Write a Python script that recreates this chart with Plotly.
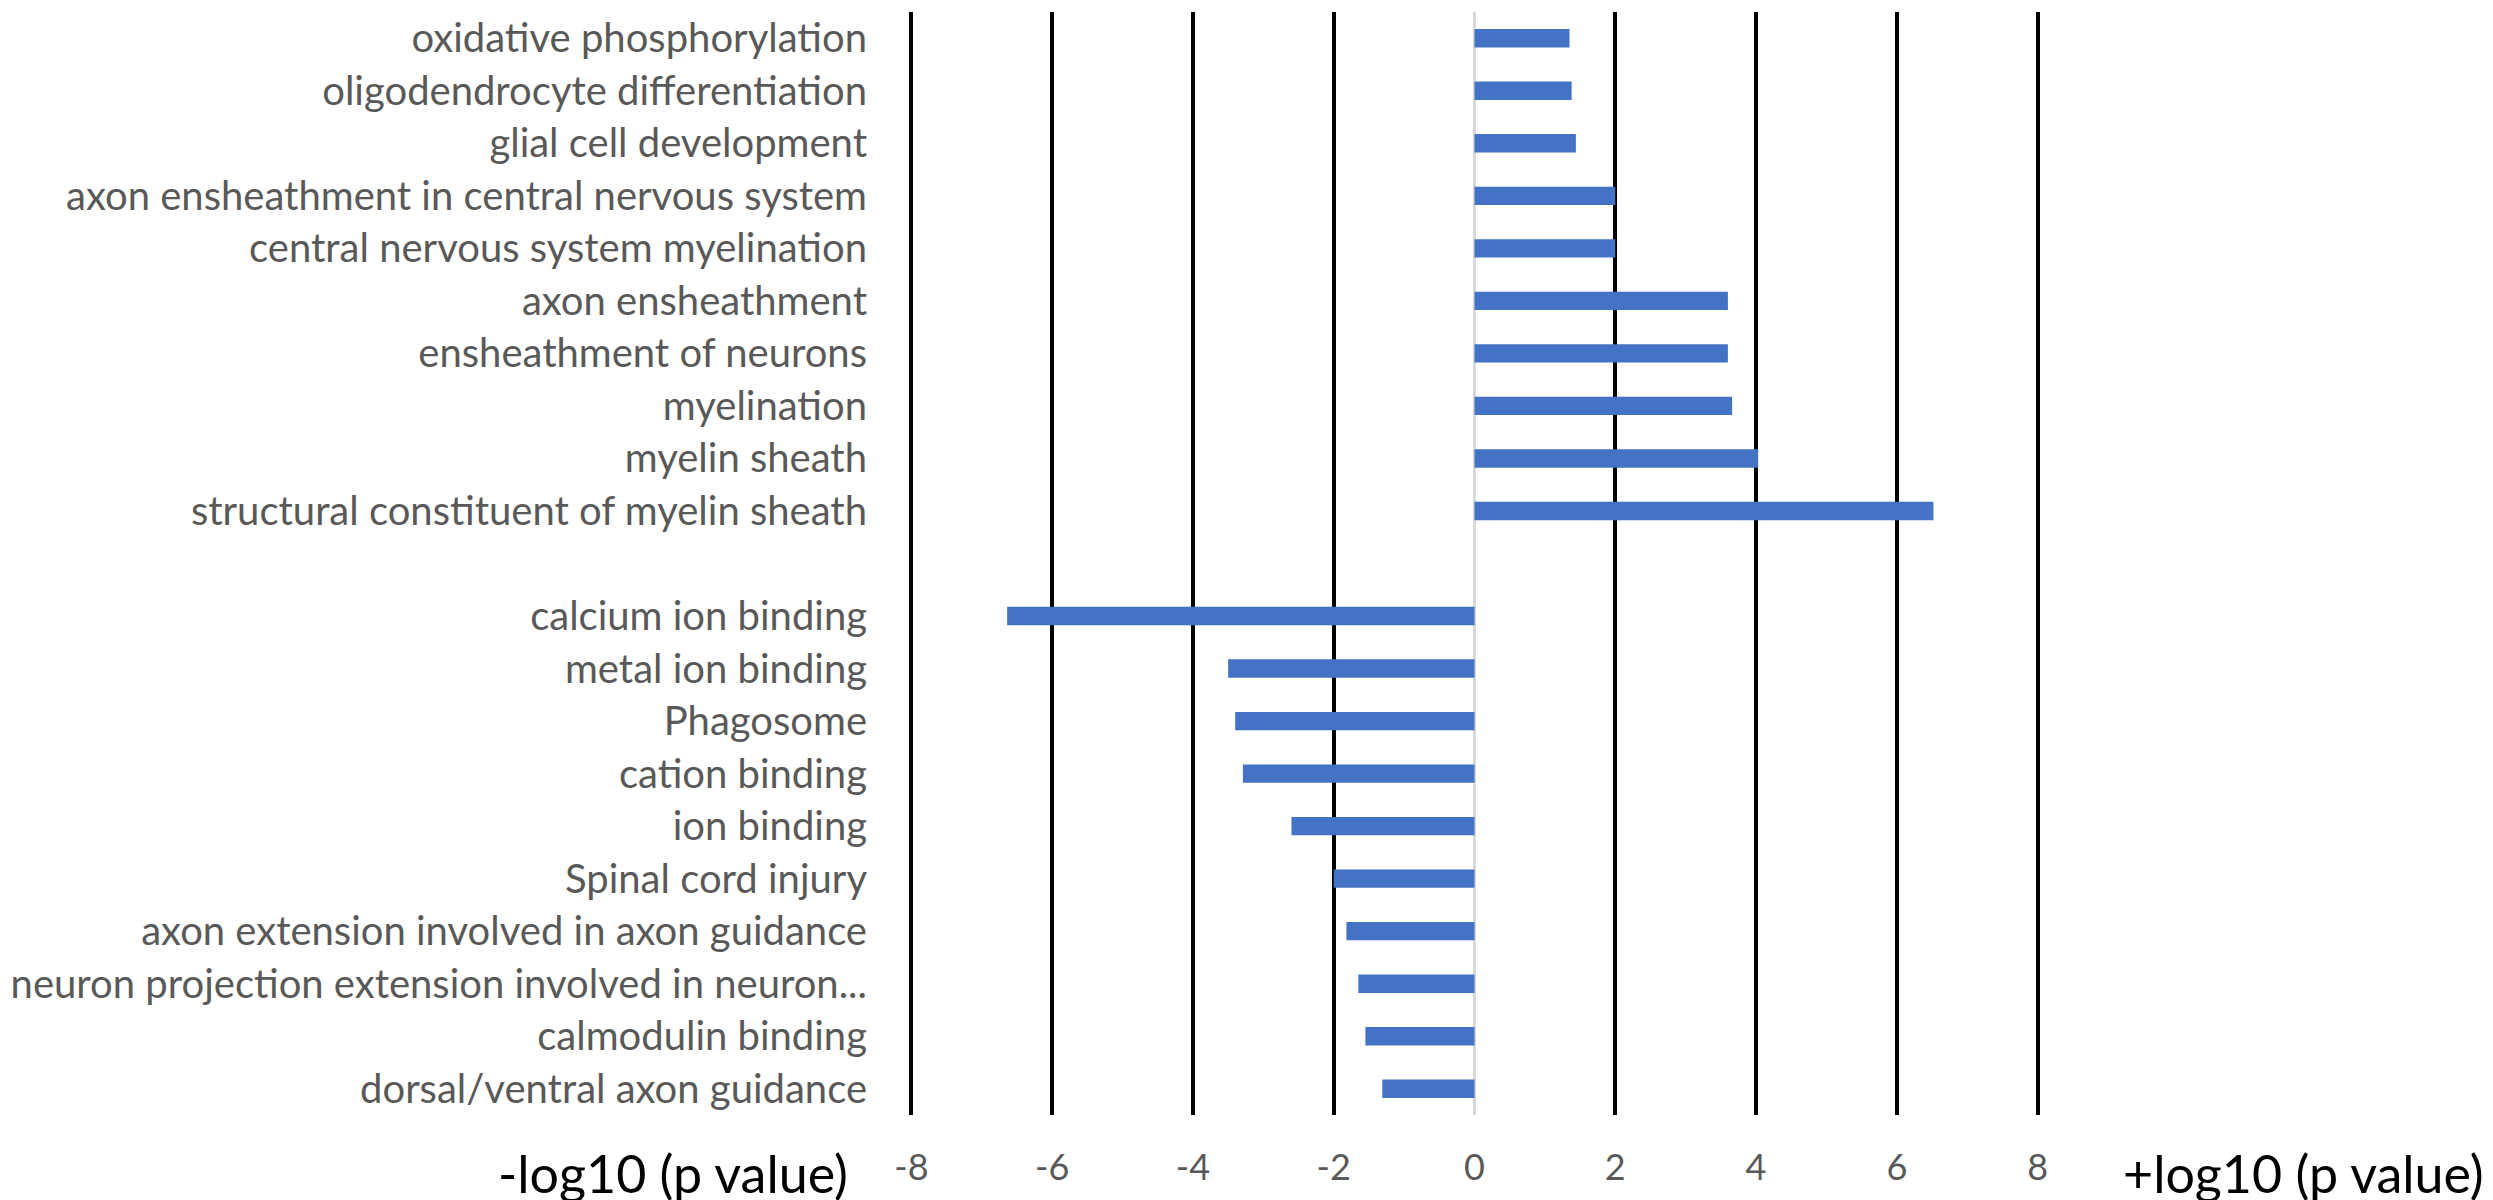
import plotly.graph_objects as go

# GO terms, listed top to bottom; the blank entry is the gap between the two groups
terms = [
    "oxidative phosphorylation",
    "oligodendrocyte differentiation",
    "glial cell development",
    "axon ensheathment in central nervous system",
    "central nervous system myelination",
    "axon ensheathment",
    "ensheathment of neurons",
    "myelination",
    "myelin sheath",
    "structural constituent of myelin sheath",
    " ",
    "calcium ion binding",
    "metal ion binding",
    "Phagosome",
    "cation binding",
    "ion binding",
    "Spinal cord injury",
    "axon extension involved in axon guidance",
    "neuron projection extension involved in neuron...",
    "calmodulin binding",
    "dorsal/ventral axon guidance",
]
log_p = [
    1.35, 1.38, 1.44, 2.0, 2.0, 3.6, 3.6, 3.66, 4.03, 6.52,
    None,
    -6.64, -3.5, -3.4, -3.29, -2.6, -2.0, -1.82, -1.65, -1.55, -1.31,
]
x_ticks = [-8, -6, -4, -2, 0, 2, 4, 6, 8]
x_tick_text = ["-8", "-6", "-4", "-2", "0", "2", "4", "6", "8"]

fig = go.Figure()
fig.add_trace(go.Bar(
    x=log_p, y=terms, orientation="h",
    marker=dict(color="#4472C4", line=dict(width=0)),
    width=0.35, showlegend=False,
))

# range padded a hair so the gridlines at -8 and 8 are still drawn
fig.update_xaxes(
    range=[-8.02, 8.02], tickvals=x_ticks, ticktext=x_tick_text,
    showgrid=True, gridcolor="black", gridwidth=4,
    zeroline=True, zerolinecolor="#D9D9D9", zerolinewidth=3,
    showline=False, ticks="", ticklabelstandoff=28,
    tickfont=dict(family="Lato", size=36, color="#595959"),
)
fig.update_yaxes(
    type="category", autorange="reversed",
    showgrid=False, zeroline=False, showline=False,
    ticks="", ticklabelstandoff=42,
    tickfont=dict(family="Lato", size=40, color="#595959"),
)

fig.add_annotation(text="-log10 (p value)", xref="paper", yref="paper",
                   x=0, y=0, xanchor="right", yanchor="middle",
                   xshift=-60, yshift=-58, showarrow=False,
                   font=dict(family="Lato", size=52, color="black"))
fig.add_annotation(text="+log10 (p value)", xref="paper", yref="paper",
                   x=1, y=0, xanchor="left", yanchor="middle",
                   xshift=82, yshift=-58, showarrow=False,
                   font=dict(family="Lato", size=52, color="black"))

fig.update_layout(
    width=2493, height=1200,
    margin=dict(l=902, r=462, t=4, b=93),
    plot_bgcolor="white", paper_bgcolor="white",
)

fig.write_html("out.html")
